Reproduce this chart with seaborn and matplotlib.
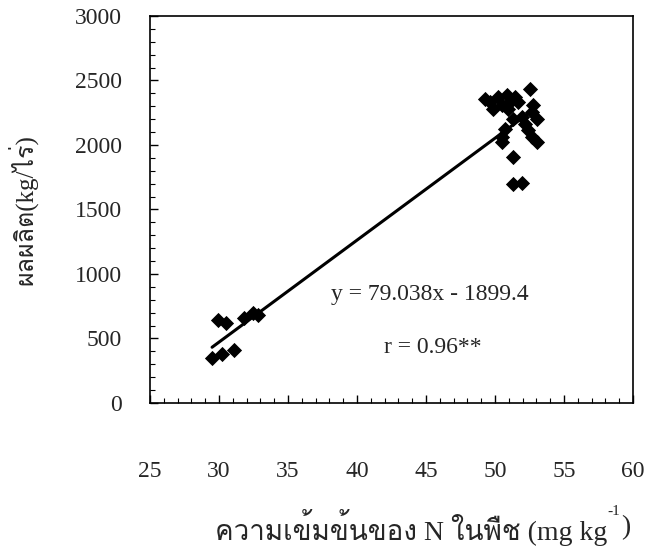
"""Yield vs plant N concentration scatter with regression line"""

import matplotlib
matplotlib.use("Agg")
import matplotlib.pyplot as plt
from matplotlib import font_manager
from matplotlib.ft2font import FT2Font
from matplotlib.ticker import MultipleLocator
import numpy as np
import pandas as pd
import seaborn as sns

# values
n_conc = [
    29.5, 30.2, 31.1, 29.9, 30.5, 31.8, 32.5, 32.8,
    52.55, 49.66, 50.24, 50.89, 51.46, 51.68, 49.87, 50.52, 50.96,
    52.77, 52.69, 53.05, 51.32, 51.97, 52.19, 52.40, 50.74, 50.52,
    50.52, 52.69, 53.05, 51.32, 51.32, 51.97, 49.3, 51.1,
]
yield_kg = [
    350, 381, 412, 645, 622, 660, 699, 684,
    2432, 2331, 2369, 2385, 2369, 2331, 2277, 2308, 2277,
    2308, 2254, 2199, 2199, 2214, 2160, 2113, 2121, 2059,
    2020, 2059, 2020, 1904, 1694, 1709, 2354, 2331,
]
slope = 79.038
intercept = -1899.4
line_range = [29.5, 52.6]
eq_label = "y = 79.038x - 1899.4"
r_label = "r = 0.96**"
x_label_main = "ความเข้มข้นของ N ในพืช (mg kg"
x_label_sup = "-1"
x_label_end = ")"
y_label = "ผลผลิต(kg/ไร่)"

df = pd.DataFrame({"n": n_conc, "yield": yield_kg})


def find_thai_family():
    for f in font_manager.fontManager.ttflist:
        try:
            cmap = FT2Font(f.fname).get_charmap()
        except Exception:
            continue
        if 0x0E1C in cmap and 0x0E04 in cmap:
            return f.name
    return None


sns.set_theme(style="white")
thai = find_thai_family()
families = ["Liberation Serif"] + ([thai] if thai else []) + ["DejaVu Sans"]
plt.rcParams["font.family"] = families

fig = plt.figure(figsize=(6.47, 5.51), dpi=100)
ax = fig.add_axes([0.2318, 0.2686, 0.7465, 0.7024])

sns.scatterplot(data=df, x="n", y="yield", marker="D", s=60, color="black",
                edgecolor="black", linewidth=0, ax=ax, zorder=3)

line_x = np.array(line_range)
sns.lineplot(x=line_x, y=slope * line_x + intercept, color="black", linewidth=2.2, ax=ax)

ax.set_xlim(25, 60)
ax.set_ylim(0, 3000)
ax.xaxis.set_major_locator(MultipleLocator(5))
ax.xaxis.set_minor_locator(MultipleLocator(1))
ax.yaxis.set_major_locator(MultipleLocator(500))
ax.yaxis.set_minor_locator(MultipleLocator(100))
ax.tick_params(axis="x", which="major", direction="in", length=6, width=1, pad=42,
               labelsize=17, color="black", bottom=True, top=False)
ax.tick_params(axis="x", which="minor", direction="in", length=3.5, width=0.8,
               bottom=True, top=False, color="black")
ax.tick_params(axis="y", which="major", direction="in", length=6, width=1, pad=20,
               labelsize=17, color="black", left=True, right=False)
ax.tick_params(axis="y", which="minor", direction="in", length=3.5, width=0.8,
               left=True, right=False, color="black")
for spine in ax.spines.values():
    spine.set_color("black")
    spine.set_linewidth(1.2)

ax.text(45.3, 839, eq_label, ha="center", va="center", fontsize=17)
ax.text(45.5, 427, r_label, ha="center", va="center", fontsize=17)

ax.set_xlabel("")
ax.set_ylabel("")
fig.text(0.035, 0.62, y_label, ha="center", va="center", rotation=90, fontsize=18)

# x label built from pieces so the Thai text keeps its fallback font
renderer = fig.canvas.get_renderer()
t_main = fig.text(0, 0.042, x_label_main, ha="left", va="center", fontsize=20)
t_sup = fig.text(0, 0.072, x_label_sup, ha="left", va="center", fontsize=11)
t_end = fig.text(0, 0.042, x_label_end, ha="left", va="center", fontsize=20)
w_main = t_main.get_window_extent(renderer).width / fig.bbox.width
w_sup = t_sup.get_window_extent(renderer).width / fig.bbox.width
w_end = t_end.get_window_extent(renderer).width / fig.bbox.width
x0 = 0.652 - (w_main + w_sup + w_end) / 2
t_main.set_x(x0)
t_sup.set_x(x0 + w_main + 0.001)
t_end.set_x(x0 + w_main + w_sup + 0.002)

fig.savefig("out.png", dpi=100)
plt.close(fig)
